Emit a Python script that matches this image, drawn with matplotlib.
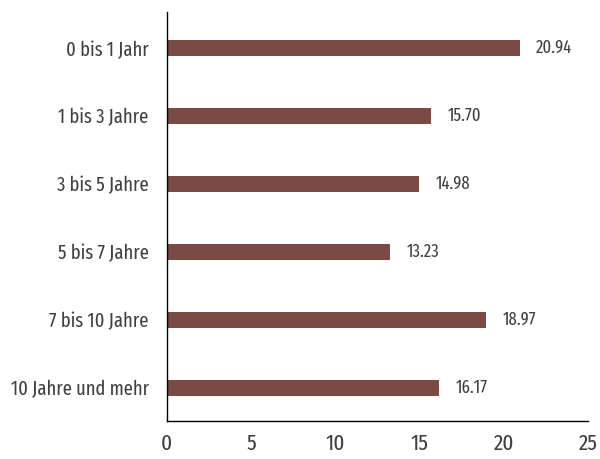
import matplotlib
matplotlib.use("Agg")
import matplotlib.pyplot as plt
from matplotlib import font_manager

categories = ["0 bis 1 Jahr", "1 bis 3 Jahre", "3 bis 5 Jahre", "5 bis 7 Jahre",
              "7 bis 10 Jahre", "10 Jahre und mehr"]
values = [20.94, 15.70, 14.98, 13.23, 18.97, 16.17]
xticks = [0, 5, 10, 15, 20, 25]

BAR_COLOR = "#7B4A42"
TEXT_COLOR = "#404040"

# narrow face close to the reference's typeface
names = {f.name for f in font_manager.fontManager.ttflist}
preferred = [n for n in ("Fira Sans Extra Condensed", "Fira Sans Condensed",
                         "Barlow Condensed") if n in names]
plt.rcParams["font.family"] = preferred[:1] + ["DejaVu Sans"]

fig = plt.figure(figsize=(6, 4.59), dpi=100)
ax = fig.add_axes([0.278, 0.083, 0.702, 0.891])

ypos = list(range(len(categories)))
ax.barh(ypos, values, height=0.235, color=BAR_COLOR)
for y, v in zip(ypos, values):
    ax.annotate(f"{v:.2f}", (v, y), xytext=(12, 0), textcoords="offset points",
                ha="left", va="center", fontsize=13, color=TEXT_COLOR)

ax.set_yticks(ypos)
ax.set_yticklabels(categories, fontsize=14.5, color=TEXT_COLOR)
ax.set_xticks(xticks)
ax.set_xticklabels([str(t) for t in xticks], fontsize=16.5, color=TEXT_COLOR)
ax.set_xlim(0, 25)
ax.set_ylim(5.49, -0.53)
ax.tick_params(axis="both", length=0)
ax.tick_params(axis="x", pad=9)
ax.tick_params(axis="y", pad=13)
for side in ("top", "right"):
    ax.spines[side].set_visible(False)
for side in ("left", "bottom"):
    ax.spines[side].set_color("black")
    ax.spines[side].set_linewidth(1.0)

fig.savefig("out.png", dpi=100, facecolor="white")
